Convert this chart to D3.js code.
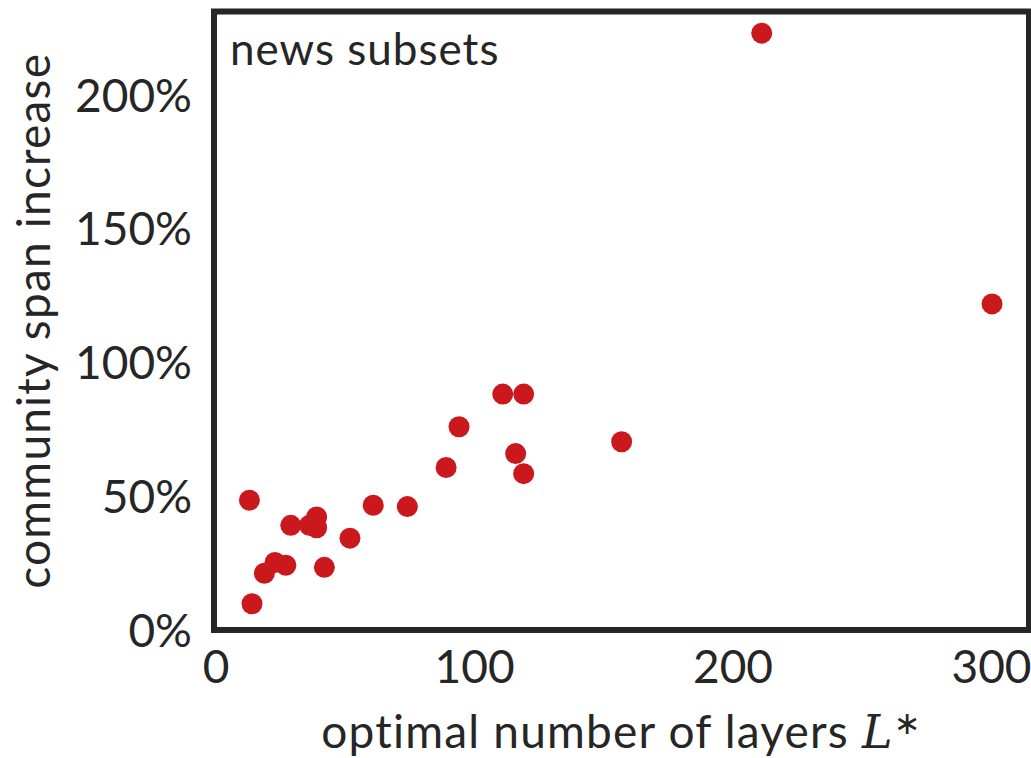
<!DOCTYPE html>
<html lang="en">
<head>
  <meta charset="UTF-8">
  <title>community span increase vs optimal number of layers</title>
  <style>
    body {
      margin: 0;
      background: #fff;
    }
    svg text {
      font-family: 'Lato', 'DejaVu Sans', sans-serif;
      fill: #262626;
    }
  </style>
</head>
<body>
  <div id="chart"></div>

  <script src="https://d3js.org/d3.v7.min.js"></script>

  <script>
    // optimal number of layers L* per news subset
    const layers = [211.3, 300.4, 111.1, 119.2, 94.2, 157.1, 116.1, 119.2, 89.2, 13.1, 61.0,
                    74.2, 29.1, 36.3, 39.1, 39.1, 52.0, 23.0, 27.2, 18.9, 42.1, 14.1];
    // community span increase, in percent
    const spanIncrease = [222.9, 121.8, 88.1, 88.1, 75.9, 70.3, 65.9, 58.4, 60.7, 48.5, 46.6,
                          46.1, 39.1, 39.1, 42.2, 38.2, 34.3, 25.2, 24.2, 21.2, 23.4, 9.8];
    const xTicks = [0, 100, 200, 300];
    const yTicks = [0, 50, 100, 150, 200];

    const width = 1031;
    const height = 758;
    const margin = { top: 11.5, right: 2, bottom: 128, left: 214 };

    const svg = d3.select("#chart")
      .append("svg")
      .attr("width", width)
      .attr("height", height);

    const x = d3.scaleLinear()
      .domain([-0.6, 314.7])
      .range([margin.left, width - margin.right]);

    const y = d3.scaleLinear()
      .domain([0, 231])
      .range([height - margin.bottom, margin.top]);

    const points = layers.map((l, i) => ({ l: l, s: spanIncrease[i] }));

    // axes (labels only, no tick marks)
    const xAxis = svg.append("g")
      .attr("transform", `translate(0,${height - margin.bottom})`)
      .call(d3.axisBottom(x).tickValues(xTicks).tickSize(0).tickPadding(20));

    const yAxis = svg.append("g")
      .attr("transform", `translate(${margin.left},0)`)
      .call(d3.axisLeft(y).tickValues(yTicks).tickSize(0).tickPadding(22)
        .tickFormat(d => d + "%"));

    [xAxis, yAxis].forEach(g => {
      g.select(".domain").remove();
      g.selectAll("text")
        .style("font-size", "46px")
        .style("font-family", "'Lato', 'DejaVu Sans', sans-serif")
        .attr("fill", "#262626");
    });
    yAxis.selectAll("text").attr("dy", "0.36em");

    svg.append("g")
      .selectAll("circle")
      .data(points)
      .join("circle")
      .attr("cx", d => x(d.l))
      .attr("cy", d => y(d.s))
      .attr("r", 10.5)
      .attr("fill", "#cb181d");

    // frame
    svg.append("rect")
      .attr("x", x.range()[0])
      .attr("y", y.range()[1])
      .attr("width", x.range()[1] - x.range()[0])
      .attr("height", y.range()[0] - y.range()[1])
      .attr("fill", "none")
      .attr("stroke", "#262626")
      .attr("stroke-width", 6);

    svg.append("text")
      .attr("x", 230)
      .attr("y", 65)
      .style("font-size", "44px")
      .style("letter-spacing", "1px")
      .text("news subsets");

    const xLabel = svg.append("text")
      .attr("x", (x.range()[0] + x.range()[1]) / 2)
      .attr("y", 748)
      .attr("text-anchor", "middle")
      .style("font-size", "46px")
      .style("letter-spacing", "1.2px");
    xLabel.append("tspan").text("optimal number of layers ");
    xLabel.append("tspan")
      .style("font-family", "'DejaVu Serif', serif")
      .style("font-style", "italic")
      .text("L");
    xLabel.append("tspan")
      .attr("dy", "-0.45em")
      .style("font-size", "32px")
      .text("∗");

    svg.append("text")
      .attr("transform", `translate(50,${(y.range()[0] + y.range()[1]) / 2}) rotate(-90)`)
      .attr("text-anchor", "middle")
      .style("font-size", "46px")
      .style("letter-spacing", "1.2px")
      .text("community span increase");
  </script>
</body>
</html>
